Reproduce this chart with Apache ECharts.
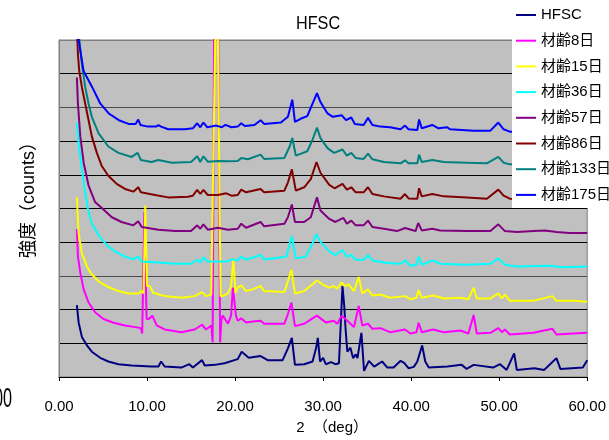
<!DOCTYPE html>
<html>
<head>
<meta charset="utf-8">
<script src="https://cdn.jsdelivr.net/npm/echarts@6/dist/echarts.min.js"></script>
<style>
  html, body { margin: 0; padding: 0; background: #fff; }
  #chart { width: 609px; height: 440px; }
</style>
</head>
<body>
<div id="chart"></div>
<script>
// XRD patterns (2θ in degrees, intensity in counts incl. stacking offset)
const seriesNames = ['HFSC', '材齢8日', '材齢15日', '材齢36日', '材齢57日', '材齢86日', '材齢133日', '材齢175日'];
const seriesColors = ['#000080', '#FF00FF', '#FFFF00', '#00FFFF', '#800080', '#800000', '#008080', '#0000FF'];
const xTicks = [0, 10, 20, 30, 40, 50, 60];

const hfsc = [[2.03,2130],[2.23,1620],[2.6,1190],[3.17,940],[3.73,750],[4.68,570],[5.6,460],[6.75,380],[8.25,340],[10.5,310],[11.3,310],[11.6,460],[12.0,310],[13.9,280],[14.8,380],[15.2,280],[16.25,500],[16.55,340],[17.7,360],[18.8,410],[20.3,530],[20.75,750],[21.55,570],[22.9,620],[23.7,500],[25.4,500],[26.0,850],[26.45,1160],[26.8,360],[27.85,380],[28.8,460],[29.2,850],[29.4,1160],[29.65,460],[30.0,570],[30.3,380],[30.9,440],[31.4,380],[31.8,410],[32.2,2700],[32.4,2110],[32.55,1430],[32.75,750],[33.1,870],[33.4,560],[33.7,670],[33.9,560],[34.35,1310],[34.65,180],[35.2,480],[35.8,310],[36.7,460],[37.3,280],[38.0,280],[38.8,480],[39.2,420],[39.7,260],[40.3,300],[40.7,460],[41.25,940],[41.6,460],[42.0,280],[44.1,310],[45.75,360],[46.3,240],[47.1,360],[49.3,280],[50.1,380],[50.85,210],[51.7,700],[52.0,210],[54.0,260],[55.1,210],[56.5,560],[56.95,240],[59.5,280],[60.0,500]];

const age8 = [[2.03,4390],[2.15,3570],[2.42,3090],[2.8,2600],[3.36,2210],[4.1,1920],[5.05,1720],[6.2,1610],[7.5,1530],[8.65,1480],[9.3,1450],[9.45,1290],[9.7,4890],[9.95,1720],[10.2,1720],[10.6,1820],[11.1,1530],[12.0,1410],[13.9,1330],[15.4,1410],[16.25,1550],[16.7,1410],[17.3,1530],[17.45,1030],[17.62,10500],[18.08,10500],[18.3,1030],[18.45,1700],[18.6,1820],[19.2,1580],[19.55,1820],[19.75,2650],[20.1,1820],[20.3,1670],[20.7,1740],[21.25,1620],[22.0,1650],[22.9,1670],[23.3,1580],[25.6,1580],[26.0,1870],[26.4,2210],[26.8,1510],[27.85,1580],[28.8,1740],[29.3,1820],[30.3,1620],[31.2,1670],[31.6,1580],[32.1,1820],[32.75,1670],[33.5,1480],[34.05,2110],[34.45,1530],[35.1,1580],[35.6,1430],[36.5,1450],[37.6,1330],[39.3,1410],[39.9,1290],[40.6,1330],[40.85,1610],[41.2,1330],[42.5,1410],[43.7,1330],[45.6,1380],[46.5,1290],[47.1,1840],[47.45,1290],[49.0,1310],[49.9,1450],[50.3,1330],[50.65,1410],[51.2,1260],[53.9,1310],[56.05,1430],[56.5,1260],[58.4,1290],[60.0,1310]];

const age15 = [[2.03,5330],[2.23,4250],[2.6,3670],[3.17,3280],[3.73,3040],[4.5,2840],[5.6,2670],[6.75,2550],[7.9,2480],[9.0,2480],[9.4,2550],[9.6,2480],[9.8,5090],[10.0,2700],[10.3,2700],[10.7,2500],[12.0,2400],[13.9,2350],[15.4,2400],[16.25,2520],[16.7,2400],[17.3,2450],[17.45,2400],[17.77,10500],[18.03,10500],[18.35,2400],[18.6,2400],[19.2,2480],[19.55,2700],[19.8,3500],[20.05,2500],[20.3,2650],[20.7,2720],[21.25,2550],[22.0,2600],[22.9,2700],[23.3,2550],[25.6,2520],[26.0,2840],[26.4,3180],[26.8,2480],[27.85,2550],[28.8,2750],[29.3,2870],[29.9,2750],[30.7,2650],[31.2,2700],[31.6,2620],[32.1,2810],[32.45,2700],[32.9,2750],[33.5,2550],[34.05,2970],[34.45,2480],[35.1,2600],[35.6,2420],[36.5,2450],[37.6,2350],[39.3,2400],[39.9,2310],[40.6,2350],[40.85,2580],[41.2,2350],[42.5,2420],[43.7,2330],[45.6,2350],[46.5,2310],[47.1,2650],[47.45,2330],[49.0,2330],[49.9,2480],[50.3,2330],[50.65,2450],[51.2,2260],[53.9,2260],[56.05,2400],[56.5,2260],[58.4,2260],[60.0,2230]];

const age36 = [[2.03,7550],[2.23,6940],[2.6,6160],[2.98,5480],[3.28,5000],[3.73,4550],[4.5,4210],[5.43,3910],[6.4,3720],[7.5,3570],[8.45,3490],[9.0,3570],[9.4,3430],[11.3,3400],[13.2,3360],[15.0,3360],[15.7,3480],[16.05,3400],[16.4,3550],[16.9,3430],[18.05,3430],[19.0,3430],[19.75,3490],[20.3,3460],[20.7,3570],[21.25,3480],[22.9,3620],[23.3,3490],[25.8,3570],[26.45,4180],[26.9,3520],[28.0,3570],[28.8,3960],[29.25,4240],[29.7,4010],[30.7,3720],[31.4,3620],[32.2,3770],[32.7,3570],[33.2,3620],[33.7,3480],[34.6,3480],[35.1,3620],[35.6,3460],[37.3,3380],[38.8,3360],[39.35,3460],[39.9,3300],[40.6,3330],[40.85,3570],[41.2,3330],[42.5,3460],[43.3,3360],[46.3,3330],[49.0,3360],[49.9,3520],[50.65,3330],[52.0,3280],[55.7,3300],[57.25,3260],[60.0,3280]];

const age57 = [[2.03,8890],[2.15,8110],[2.42,7140],[2.8,6360],[3.36,5680],[4.1,5190],[5.05,4970],[6.0,4740],[7.1,4600],[8.45,4500],[9.0,4620],[9.4,4450],[11.3,4370],[13.2,4330],[15.0,4330],[15.7,4500],[16.05,4400],[16.4,4530],[16.9,4370],[18.05,4430],[19.2,4370],[20.3,4400],[20.7,4550],[21.25,4430],[22.9,4600],[23.3,4470],[25.6,4550],[26.0,4740],[26.45,5120],[26.8,4600],[27.85,4600],[28.6,4740],[29.3,5330],[29.7,4940],[30.7,4690],[31.4,4600],[32.3,4720],[32.7,4550],[33.2,4640],[33.7,4500],[34.6,4500],[35.1,4640],[35.6,4450],[36.9,4400],[38.4,4330],[39.3,4420],[40.5,4330],[40.8,4570],[41.2,4350],[42.4,4400],[43.3,4350],[46.3,4330],[49.0,4330],[49.9,4530],[50.65,4330],[52.0,4300],[53.9,4330],[55.2,4350],[56.5,4300],[58.0,4270],[60.0,4270]];

const age86 = [[1.95,11000],[2.15,9570],[2.3,9080],[2.6,8600],[2.98,8110],[3.36,7620],[3.73,7140],[4.3,6650],[4.86,6260],[5.6,5970],[6.55,5730],[7.5,5580],[8.45,5500],[9.0,5630],[9.3,5480],[10.9,5400],[12.4,5330],[14.65,5350],[15.2,5380],[15.7,5550],[16.05,5430],[16.4,5550],[16.9,5400],[18.05,5400],[19.0,5450],[19.6,5380],[20.3,5400],[20.7,5560],[21.25,5480],[22.9,5580],[23.3,5480],[25.6,5530],[26.0,5770],[26.45,6160],[26.9,5530],[27.85,5630],[28.6,5870],[29.25,6380],[29.7,6060],[30.7,5700],[31.3,5600],[32.2,5730],[32.7,5560],[33.2,5630],[33.7,5480],[34.6,5480],[35.1,5630],[35.6,5430],[36.9,5360],[38.8,5290],[39.3,5430],[39.7,5300],[40.7,5290],[40.9,5600],[41.2,5360],[42.4,5430],[43.7,5360],[46.3,5330],[48.6,5290],[49.9,5560],[50.5,5380],[51.2,5290],[55.0,5280],[60.0,5270]];

const age133 = [[2.0,15000],[2.31,10000],[2.6,9280],[2.98,8600],[3.36,8110],[3.73,7720],[4.5,7230],[5.6,6840],[6.75,6650],[8.25,6530],[8.93,6650],[9.3,6440],[10.5,6380],[11.3,6440],[12.8,6360],[15.0,6380],[15.7,6550],[16.05,6380],[16.4,6550],[16.9,6390],[18.05,6410],[19.2,6400],[20.3,6410],[20.7,6500],[21.45,6460],[22.9,6600],[23.3,6470],[25.6,6500],[26.2,6840],[26.5,7090],[26.9,6570],[27.5,6630],[28.2,6700],[28.8,7040],[29.3,7400],[29.7,7090],[30.5,6790],[31.25,6650],[32.2,6750],[32.7,6570],[33.2,6650],[33.7,6500],[34.6,6470],[35.1,6630],[35.6,6460],[36.9,6380],[38.8,6340],[39.3,6430],[39.7,6340],[40.7,6340],[40.9,6600],[41.2,6380],[42.4,6440],[43.7,6380],[46.3,6360],[48.6,6340],[49.9,6530],[50.5,6360],[51.2,6310],[55.0,6300],[60.0,6290]];

const age175 = [[2.0,15000],[2.23,10000],[2.79,9080],[3.77,8600],[4.7,8110],[5.65,7820],[6.8,7620],[7.9,7510],[8.7,7510],[9.0,7640],[9.25,7480],[10.1,7430],[11.0,7430],[11.3,7470],[11.6,7430],[12.4,7350],[14.3,7350],[15.2,7380],[15.7,7530],[16.05,7410],[16.4,7550],[16.85,7410],[17.85,7460],[18.5,7410],[18.9,7480],[19.6,7410],[20.3,7430],[20.7,7530],[21.1,7450],[22.2,7480],[22.9,7620],[23.3,7510],[25.2,7550],[26.0,7720],[26.5,8230],[26.8,7570],[27.5,7670],[28.2,7740],[28.8,8110],[29.3,8420],[29.7,8160],[30.5,7820],[31.1,7720],[32.1,7770],[32.6,7620],[33.2,7700],[33.6,7510],[34.6,7480],[35.1,7690],[35.6,7480],[36.5,7430],[37.6,7410],[38.8,7350],[39.3,7460],[39.7,7350],[40.7,7330],[40.9,7640],[41.2,7380],[42.4,7480],[43.1,7380],[44.1,7410],[44.4,7350],[47.1,7310],[49.0,7310],[49.9,7550],[50.5,7350],[51.2,7280],[55.0,7280],[60.0,7270]];

const seriesData = [hfsc, age8, age15, age36, age57, age86, age133, age175];

const LATIN = '"Liberation Sans",Arial,sans-serif';
const MIXED = '"Liberation Sans",Arial,"Noto Sans CJK JP",sans-serif';

// split-line colours per tick: outer edges match the grey frame, two inner lines slightly greyer
const gridLineColors = ['#808080', '#000', '#000', '#4a4a4a', '#000', '#000', '#000', '#000', '#4a4a4a', '#000', '#808080'];

const chart = echarts.init(document.getElementById('chart'), null, { renderer: 'canvas' });

chart.setOption({
  animation: false,
  backgroundColor: '#ffffff',
  grid: {
    left: 59, top: 40, right: 19, bottom: 58,
    show: true, backgroundColor: '#c0c0c0', borderColor: '#808080', borderWidth: 1
  },
  graphic: [
    {
      type: 'text', x: 296, y: 24.5, scaleX: 0.9,
      style: { text: 'HFSC', font: '18px ' + LATIN, fill: '#000', textAlign: 'left', textVerticalAlign: 'middle' }
    },
    {
      type: 'text', x: 12, y: 400, scaleX: 0.6,
      style: { text: '00', font: '27px ' + LATIN, fill: '#000', textAlign: 'right', textVerticalAlign: 'middle' }
    }
  ],
  legend: {
    orient: 'vertical', left: 512, top: 0,
    backgroundColor: '#ffffff',
    padding: [6, 40, 4, 4],
    itemWidth: 20, itemHeight: 2, itemGap: 7.7,
    icon: 'rect',
    textStyle: { fontSize: 15, lineHeight: 18, fontFamily: MIXED, color: '#000' },
    data: seriesNames
  },
  xAxis: {
    type: 'value', min: xTicks[0], max: xTicks[xTicks.length - 1], interval: 10,
    axisLine: { show: true, onZero: false, lineStyle: { color: '#000', width: 1 } },
    axisTick: { show: true, length: 4, lineStyle: { color: '#000' } },
    axisLabel: { formatter: v => v.toFixed(2), fontSize: 15, fontFamily: LATIN, color: '#000', margin: 22 },
    splitLine: { show: false },
    name: '2  （deg）', nameLocation: 'middle', nameGap: 43,
    nameTextStyle: { fontSize: 15, fontFamily: MIXED, color: '#000', padding: [0, 0, 0, 18] }
  },
  yAxis: {
    type: 'value', min: 0, max: 10000, interval: 1000,
    axisLine: { show: true, lineStyle: { color: '#808080' } },
    axisTick: { show: false },
    axisLabel: { show: false },
    splitLine: { show: true, lineStyle: { color: gridLineColors, width: 1 } },
    name: '強度（counts）', nameLocation: 'middle', nameRotate: 90, nameGap: 21,
    nameTextStyle: { fontSize: 18, fontFamily: MIXED, color: '#000', padding: [0, 0, 0, 26] }
  },
  series: seriesNames.map((name, i) => ({
    name: name,
    type: 'line',
    data: seriesData[i],
    symbol: 'none',
    clip: true,
    color: seriesColors[i],
    lineStyle: { color: seriesColors[i], width: 2 },
    z: 2
  }))
});
</script>
</body>
</html>
